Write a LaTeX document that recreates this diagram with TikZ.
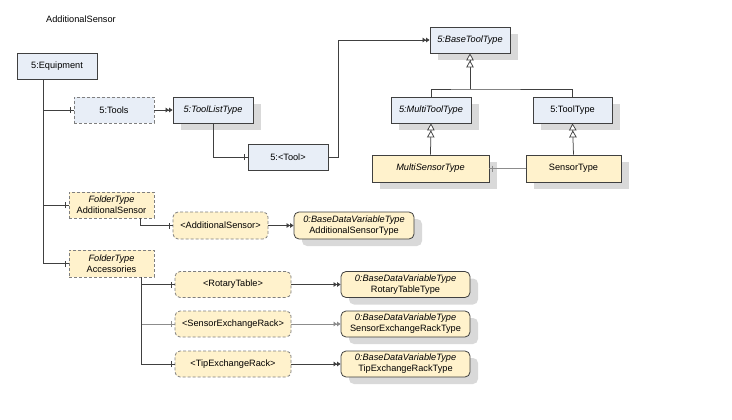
\documentclass[tikz,border=0pt]{standalone}
\usepackage{fontspec}
\setmainfont{Liberation Sans}
\usetikzlibrary{arrows.meta,shadows,decorations.markings,calc}
\definecolor{bluefill}{HTML}{E8EEF7}
\definecolor{yelfill}{HTML}{FFF2CC}
\definecolor{edgecol}{HTML}{404040}
\definecolor{shadecol}{HTML}{D9D9D9}
\definecolor{dashcol}{HTML}{7F7F7F}
\definecolor{wiregray}{HTML}{8C8C8C}
\tikzset{
  box/.style={draw=edgecol, line width=0.8pt, minimum height=26pt, inner sep=1pt,
    font=\fontsize{9.2}{11}\selectfont, align=center},
  bluebox/.style={box, fill=bluefill},
  yelbox/.style={box, fill=yelfill},
  dashbox/.style={draw=dashcol, dash pattern=on 3pt off 2pt},
  shad/.style={drop shadow={shadow xshift=8pt, shadow yshift=-7pt, fill=shadecol, opacity=1}},
  rnd/.style={rounded corners=5pt},
  wire/.style={draw=edgecol, line width=0.75pt},
  comp/.style={wire, postaction={decorate}, decoration={markings,
    mark=at position -3pt with {\draw[solid, line width=0.75pt] (0,-3pt) -- (0,3pt);}}},
  typedef/.style={wire, -{Triangle[length=3.5pt,width=4.5pt] Triangle[length=3.5pt,width=4.5pt]}},
  subtype/.style={wire, -{Triangle[length=7pt,width=7.5pt,fill=white] Triangle[length=7pt,width=7.5pt,fill=white]}},
}
\begin{document}
\begin{tikzpicture}[x=1pt,y=-1pt]
\useasboundingbox (0,0) rectangle (732,420);
\node[font=\fontsize{9.2}{11}\selectfont] (title) at (81,19) {AdditionalSensor};

% nodes
\node[bluebox, minimum width=80pt] (eq) at (57,66) {5:Equipment};
\node[bluebox, dashbox, minimum width=80pt] (tools) at (114,110) {5:Tools};
\node[bluebox, shad, minimum width=80pt] (tlt) at (213,110) {\textit{5:ToolListType}};
\node[bluebox, minimum width=80pt] (tool) at (288,157) {5:<Tool>};
\node[bluebox, shad, minimum width=80pt] (btt) at (470,40) {\textit{5:BaseToolType}};
\node[bluebox, shad, minimum width=80pt] (mtt) at (431,110) {\textit{5:MultiToolType}};
\node[bluebox, shad, minimum width=79pt] (tt) at (572.5,110) {5:ToolType};
\node[yelbox, shad, minimum width=117pt, minimum height=27pt] (mst) at (430.5,168.5) {\textit{MultiSensorType}};
\node[yelbox, shad, minimum width=95pt, minimum height=27pt] (st) at (573.5,168.5) {SensorType};

\node[yelbox, dashbox, minimum width=85pt] (fas) at (111.5,205) {\textit{FolderType}\\AdditionalSensor};
\node[yelbox, dashbox, rnd, minimum width=95pt, minimum height=27pt] (das) at (220.5,225.5) {<AdditionalSensor>};
\node[yelbox, rnd, shad, minimum width=120pt, minimum height=27pt] (ast) at (354,225.5) {\textit{0:BaseDataVariableType}\\AdditionalSensorType};

\node[yelbox, dashbox, minimum width=85pt, minimum height=27pt] (facc) at (111.5,263.5) {\textit{FolderType}\\Accessories};
\node[yelbox, dashbox, rnd, minimum width=116pt] (drt) at (233,284.5) {<RotaryTable>};
\node[yelbox, rnd, shad, minimum width=129pt] (rtt) at (405.5,284.5) {\textit{0:BaseDataVariableType}\\RotaryTableType};
\node[yelbox, dashbox, rnd, minimum width=116pt] (dser) at (233,324) {<SensorExchangeRack>};
\node[yelbox, rnd, shad, minimum width=129pt] (sert) at (405.5,324) {\textit{0:BaseDataVariableType}\\SensorExchangeRackType};
\node[yelbox, dashbox, rnd, minimum width=116pt] (dtip) at (233,364) {<TipExchangeRack>};
\node[yelbox, rnd, shad, minimum width=129pt] (tipt) at (405.5,364) {\textit{0:BaseDataVariableType}\\TipExchangeRackType};

% connectors
\draw[comp] ($(eq.south west)+(27,0)$) |- (tools.west);
\draw[comp] ($(eq.south west)+(27,0)$) |- (fas.west);
\draw[comp] ($(eq.south west)+(27,0)$) |- (facc.west);
\draw[typedef] (tools.east) -- (tlt.west);
\draw[comp] (tlt.south) |- (tool.west);
\draw[typedef] (tool.east) -- ++(10,0) |- (btt.west);

\coordinate (junc) at (470,89);
\draw[wire] (mtt.north) |- (junc) -| (tt.north);
\draw[subtype] (junc) -- (btt.south);
\draw[subtype] (mst.north) -- (mtt.south);
\draw[subtype] (st.north) -- (tt.south);
\draw[comp, draw=wiregray] (st.west) -- (mst.east);

\draw[comp] ($(fas.south east)+(-14,0)$) |- (das.west);
\draw[typedef] (das.east) -- (ast.west);

\draw[comp] ($(facc.south east)+(-13,0)$) |- (drt.west);
\draw[comp, draw=wiregray] ($(facc.south east)+(-13,0)$) |- (dser.west);
\draw[comp] ($(facc.south east)+(-13,0)$) |- (dtip.west);
\draw[typedef] (drt.east) -- (rtt.west);
\draw[typedef, draw=wiregray] (dser.east) -- (sert.west);
\draw[typedef] (dtip.east) -- (tipt.west);
\end{tikzpicture}
\end{document}
